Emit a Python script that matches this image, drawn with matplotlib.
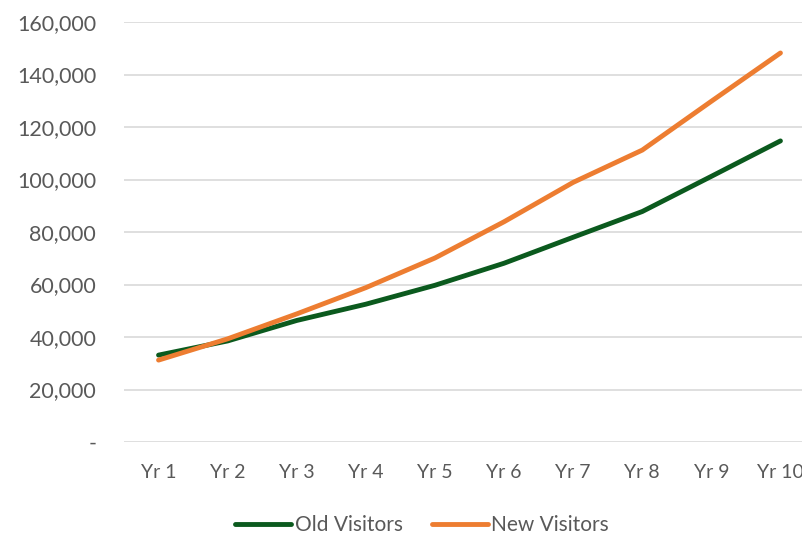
import matplotlib
matplotlib.use("Agg")
import matplotlib.pyplot as plt
from matplotlib.ticker import FuncFormatter

years = ["Yr 1", "Yr 2", "Yr 3", "Yr 4", "Yr 5", "Yr 6", "Yr 7", "Yr 8", "Yr 9", "Yr 10"]
old_visitors = [33100, 38500, 46300, 52500, 59700, 68100, 78000, 87800, 101200, 114700]
new_visitors = [31200, 39300, 48800, 58800, 70100, 83900, 98900, 111200, 129800, 148200]
y_ticks = [0, 20000, 40000, 60000, 80000, 100000, 120000, 140000, 160000]

plt.rcParams['font.family'] = ['Lato', 'DejaVu Sans']
text_color = '#595959'

fig = plt.figure(figsize=(8.02, 5.35), dpi=100)
ax = fig.add_axes([124/802, 1-442/535, 691/802, 420/535])

x = list(range(len(years)))
ax.plot(x, old_visitors, color='#0B5A1E', lw=3.5, solid_capstyle='round', label='Old Visitors', zorder=3)
ax.plot(x, new_visitors, color='#ED7D31', lw=3.5, solid_capstyle='round', label='New Visitors', zorder=3)

ax.set_xlim(-0.5, len(years) - 0.5)
ax.set_ylim(0, 160000)
ax.set_yticks(y_ticks)
ax.yaxis.set_major_formatter(FuncFormatter(lambda v, p: '-' if v == 0 else f'{int(v):,}'))
ax.set_xticks(x)
ax.set_xticklabels(years)
ax.grid(axis='y', color='#D9D9D9', lw=1.2)
ax.set_axisbelow(True)
for s in ax.spines.values():
    s.set_visible(False)
ax.tick_params(axis='x', length=0, labelsize=14, colors=text_color, pad=16)
ax.tick_params(axis='y', length=0, labelsize=15.5, colors=text_color, pad=20)
for lbl in ax.get_yticklabels():
    lbl.set_horizontalalignment('right')

fig.legend(loc='center', bbox_to_anchor=(422/802, 1-525/535), ncol=2, frameon=False,
           fontsize=15, handlelength=2.7, handletextpad=0.15, columnspacing=1.4,
           labelcolor=text_color)

fig.savefig('out.png', dpi=100)
